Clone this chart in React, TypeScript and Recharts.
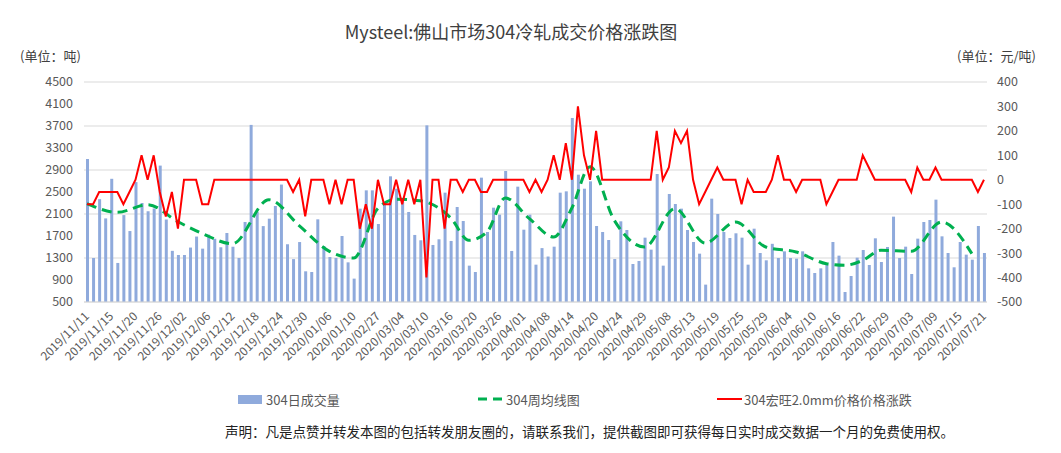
import { ComposedChart, Bar, Line, XAxis, YAxis, CartesianGrid } from 'recharts';

// trading days shown on the category axis
const dates = [
  '2019/11/11', '2019/11/12', '2019/11/13', '2019/11/14', '2019/11/15', '2019/11/16', '2019/11/18', '2019/11/19',
  '2019/11/20', '2019/11/21', '2019/11/22', '2019/11/25', '2019/11/26', '2019/11/27', '2019/11/28', '2019/11/29',
  '2019/12/02', '2019/12/03', '2019/12/04', '2019/12/05', '2019/12/06', '2019/12/09', '2019/12/10', '2019/12/11',
  '2019/12/12', '2019/12/13', '2019/12/16', '2019/12/17', '2019/12/18', '2019/12/19', '2019/12/20', '2019/12/23',
  '2019/12/24', '2019/12/25', '2019/12/26', '2019/12/27', '2019/12/30', '2019/12/31', '2020/01/02', '2020/01/03',
  '2020/01/06', '2020/01/07', '2020/01/08', '2020/01/09', '2020/01/10', '2020/01/13', '2020/01/14', '2020/01/15',
  '2020/02/27', '2020/02/28', '2020/03/02', '2020/03/03', '2020/03/04', '2020/03/05', '2020/03/06', '2020/03/09',
  '2020/03/10', '2020/03/11', '2020/03/12', '2020/03/13', '2020/03/16', '2020/03/17', '2020/03/18', '2020/03/19',
  '2020/03/20', '2020/03/23', '2020/03/24', '2020/03/25', '2020/03/26', '2020/03/27', '2020/03/30', '2020/03/31',
  '2020/04/01', '2020/04/02', '2020/04/03', '2020/04/07', '2020/04/08', '2020/04/09', '2020/04/10', '2020/04/13',
  '2020/04/14', '2020/04/15', '2020/04/16', '2020/04/17', '2020/04/20', '2020/04/21', '2020/04/22', '2020/04/23',
  '2020/04/24', '2020/04/26', '2020/04/27', '2020/04/28', '2020/04/29', '2020/04/30', '2020/05/06', '2020/05/07',
  '2020/05/08', '2020/05/09', '2020/05/11', '2020/05/12', '2020/05/13', '2020/05/14', '2020/05/15', '2020/05/18',
  '2020/05/19', '2020/05/20', '2020/05/21', '2020/05/22', '2020/05/25', '2020/05/26', '2020/05/27', '2020/05/28',
  '2020/05/29', '2020/06/01', '2020/06/02', '2020/06/03', '2020/06/04', '2020/06/05', '2020/06/08', '2020/06/09',
  '2020/06/10', '2020/06/11', '2020/06/12', '2020/06/15', '2020/06/16', '2020/06/17', '2020/06/18', '2020/06/19',
  '2020/06/22', '2020/06/23', '2020/06/24', '2020/06/28', '2020/06/29', '2020/06/30', '2020/07/01', '2020/07/02',
  '2020/07/03', '2020/07/06', '2020/07/07', '2020/07/08', '2020/07/09', '2020/07/10', '2020/07/13', '2020/07/14',
  '2020/07/15', '2020/07/16', '2020/07/17', '2020/07/20', '2020/07/21',
];

// 304日成交量 (吨)
const volume = [
  3100, 1300, 2370, 2020, 2740, 1210, 2080, 1790, 2680, 2300, 2150, 2200, 2980, 2000, 1430, 1355,
  1355, 1490, 1690, 1470, 1725, 1650, 1495, 1755, 1505, 1300, 1955, 3720, 2140, 1880, 2015, 2245,
  2635, 1550, 1280, 1590, 1058, 1045, 2003, 1518, 1318, 1300, 1700, 1221, 925, 2197, 2530, 2530,
  1918, 2318, 2785, 2560, 2318, 2137, 1719, 1622, 3712, 1537, 1640, 2488, 1610, 2227, 1973, 1161,
  1046, 2761, 1773, 2215, 2088, 2882, 1428, 2597, 1815, 2088, 1179, 1480, 1327, 1506, 2488, 2512,
  3845, 2815, 2560, 2694, 1882, 1773, 1627, 1282, 1967, 1809, 1191, 1246, 1670, 1452, 2827, 1161,
  2464, 2282, 2197, 1809, 1591, 1379, 816, 2379, 2100, 1773, 1664, 1749, 1670, 1179, 1833, 1391,
  1258, 1558, 1300, 1421, 1300, 1288, 1421, 1112, 1027, 1112, 1179, 1591, 1343, 682, 973, 1306,
  1445, 1173, 1658, 1227, 1500, 2052, 1300, 1506, 1009, 1652, 1955, 1991, 2361, 1694, 1391, 1131,
  1591, 1361, 1270, 1882, 1391,
];

// 304宏旺2.0mm价格涨跌 (元/吨)
const priceChange = [
  -100, -100, -50, -50, -50, -50, -100, -50, 0, 100, 0, 100, -50, -150, -50, -200,
  0, 0, 0, -100, -100, 0, 0, 0, 0, 0, 0, 0, 0, 0, 0, 0,
  0, 0, -50, 0, -150, 0, 0, 0, -100, 0, -100, 0, 0, -200, -100, -200,
  0, -100, -100, 0, -100, 0, -100, 0, -400, 0, 0, -200, 0, 0, -50, 0,
  0, -50, -50, 0, 0, 0, 0, 0, 0, -50, 0, -50, 0, 100, 0, 150,
  0, 300, 100, 0, 200, 0, 0, 0, 0, 0, 0, 0, 0, 0, 200, 0,
  50, 200, 150, 200, 0, -100, -50, 0, 50, 0, 0, 0, -100, 0, -50, -50,
  -50, 0, 100, 0, 0, -50, 0, 0, 0, 0, -100, -50, 0, 0, 0, 0,
  100, 50, 0, 0, 0, 0, 0, 0, -50, 50, 0, 0, 50, 0, 0, 0,
  0, 0, 0, -50, 0,
];

// 304周均线 (吨), one point per week
const weekDates = [
  '2019/11/11', '2019/11/16', '2019/11/22', '2019/11/29', '2019/12/05', '2019/12/12', '2019/12/20', '2019/12/27',
  '2020/01/06', '2020/01/10', '2020/02/27', '2020/03/03', '2020/03/09', '2020/03/16', '2020/03/19', '2020/03/24',
  '2020/03/27', '2020/04/02', '2020/04/09', '2020/04/14', '2020/04/17', '2020/04/23', '2020/04/29', '2020/05/09',
  '2020/05/15', '2020/05/22', '2020/05/29', '2020/06/05', '2020/06/12', '2020/06/17', '2020/06/22', '2020/06/28',
  '2020/07/03', '2020/07/10', '2020/07/17',
];
const weekAvg = [
  2290, 2130, 2270, 1960, 1745, 1560, 2360, 1890,
  1420, 1300, 2200, 2370, 2340, 2030, 1622, 1773,
  2391, 2015, 1682, 2209, 2960, 1985, 1500, 2197,
  1573, 1955, 1500, 1409, 1197, 1167, 1258, 1440,
  1421, 1955, 1379,
];

const leftTicks = [500, 900, 1300, 1700, 2100, 2500, 2900, 3300, 3700, 4100, 4500];
const rightTicks = [-500, -400, -300, -200, -100, 0, 100, 200, 300, 400];

const data = dates.map((date, i) => {
  const w = weekDates.indexOf(date);
  return {
    date,
    volume: volume[i],
    change: priceChange[i],
    week: w >= 0 ? weekAvg[w] : null,
  };
});

const FONT = "'Noto Sans CJK SC', 'Noto Sans', sans-serif";
const AXIS_TEXT = '#595959';

function DateTick({ x, y, payload }: any) {
  return (
    <g transform={`translate(${x + 3},${y + 7})`}>
      <text textAnchor="end" transform="rotate(-45)" fontSize={12} fill={AXIS_TEXT} fontFamily={FONT}>
        {payload.value}
      </text>
    </g>
  );
}

export default function App() {
  return (
    <div style={{ position: 'absolute', left: 0, top: 0, width: 1061, height: 453, background: '#fff', fontFamily: FONT }}>
      <div style={{ position: 'absolute', left: 0, width: 1022, top: 18, textAlign: 'center', fontSize: 18, color: '#404040' }}>
        Mysteel:佛山市场304冷轧成交价格涨跌图
      </div>
      <div style={{ position: 'absolute', left: 20, top: 46, fontSize: 13, color: '#404040' }}>(单位：吨)</div>
      <div style={{ position: 'absolute', left: 957, top: 46, fontSize: 13, color: '#404040' }}>(单位：元/吨)</div>

      <ComposedChart width={1061} height={453} data={data} margin={{ top: 82, right: 0, left: 0, bottom: 81 }}>
        <CartesianGrid yAxisId="left" vertical={false} stroke="#d9d9d9" />
        <XAxis
          dataKey="date"
          interval={3}
          height={70}
          tickLine={false}
          axisLine={{ stroke: '#d9d9d9' }}
          tick={<DateTick />}
        />
        <YAxis
          yAxisId="left"
          width={84}
          domain={[500, 4500]}
          ticks={leftTicks}
          axisLine={false}
          tickLine={false}
          tickMargin={5}
          tick={{ fontSize: 12.5, fill: AXIS_TEXT, fontFamily: FONT }}
        />
        <YAxis
          yAxisId="right"
          orientation="right"
          width={74}
          domain={[-500, 400]}
          ticks={rightTicks}
          axisLine={false}
          tickLine={false}
          tickMargin={4}
          tick={{ fontSize: 12.5, fill: AXIS_TEXT, fontFamily: FONT }}
        />
        <Bar yAxisId="left" dataKey="volume" fill="#8faadc" barSize={3} isAnimationActive={false} />
        <Line
          yAxisId="left"
          dataKey="week"
          type="monotone"
          stroke="#00b050"
          strokeWidth={3}
          strokeDasharray="10 6"
          dot={false}
          activeDot={false}
          connectNulls
          isAnimationActive={false}
        />
        <Line
          yAxisId="right"
          dataKey="change"
          type="linear"
          stroke="#ff0000"
          strokeWidth={2}
          dot={false}
          activeDot={false}
          isAnimationActive={false}
        />
      </ComposedChart>

      <div style={{ position: 'absolute', top: 390, left: 0, width: 1061, height: 18, fontSize: 13, color: AXIS_TEXT }}>
        <svg style={{ position: 'absolute', left: 238, top: 5 }} width={24} height={9}>
          <rect x={0} y={0} width={24} height={9} fill="#8faadc" />
        </svg>
        <span style={{ position: 'absolute', left: 266, top: 0 }}>304日成交量</span>
        <svg style={{ position: 'absolute', left: 478, top: 4 }} width={26} height={10}>
          <line x1={0} y1={5} x2={26} y2={5} stroke="#00b050" strokeWidth={3} strokeDasharray="9 6" />
        </svg>
        <span style={{ position: 'absolute', left: 506, top: 0 }}>304周均线图</span>
        <svg style={{ position: 'absolute', left: 717, top: 4 }} width={25} height={10}>
          <line x1={0} y1={5} x2={25} y2={5} stroke="#ff0000" strokeWidth={2} />
        </svg>
        <span style={{ position: 'absolute', left: 744, top: 0 }}>304宏旺2.0mm价格价格涨跌</span>
      </div>
      <div style={{ position: 'absolute', top: 421, left: 225, fontSize: 13.5, color: '#222' }}>
        声明：凡是点赞并转发本图的包括转发朋友圈的，请联系我们，提供截图即可获得每日实时成交数据一个月的免费使用权。
      </div>
    </div>
  );
}
